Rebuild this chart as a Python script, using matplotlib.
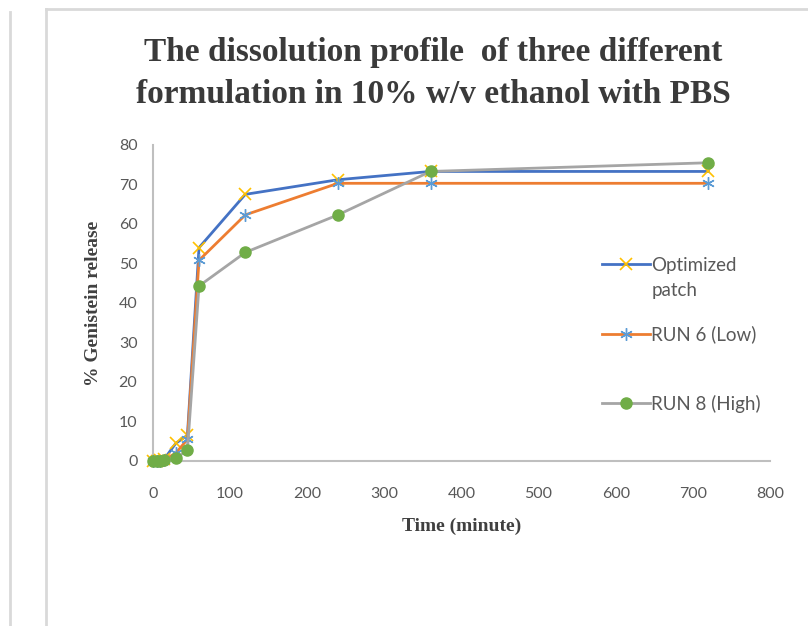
import matplotlib
matplotlib.use('Agg')
import matplotlib.pyplot as plt
from matplotlib.lines import Line2D

# dissolution data
time_min = [0, 5, 10, 15, 30, 45, 60, 120, 240, 360, 720]
optimized = [0, 0, 0.2, 0.5, 4.5, 6.5, 54.0, 67.5, 71.2, 73.3, 73.3]
run6_low = [0, 0, 0.1, 0.3, 2.0, 5.5, 50.8, 62.3, 70.3, 70.3, 70.3]
run8_high = [0, 0, 0.1, 0.2, 0.8, 2.7, 44.3, 52.8, 62.3, 73.3, 75.5]

series_labels = ['Optimized', 'RUN 6 (Low)', 'RUN 8 (High)']
x_ticks = [0, 100, 200, 300, 400, 500, 600, 700, 800]
y_ticks = [0, 10, 20, 30, 40, 50, 60, 70, 80]

serif = 'Liberation Serif'
sans = 'Lato'
tick_grey = '#595959'
axis_grey = '#bfbfbf'

fig = plt.figure(figsize=(8.08, 6.26), dpi=100)
ax = fig.add_axes([0.189, 0.2636, 0.764, 0.5048])

ax.plot(time_min, optimized, color='#4472C4', lw=2.0, marker='x',
        ms=9, mew=1.2, mec='#FFC000', label=series_labels[0], zorder=3,
        clip_on=False)
ax.plot(time_min, run6_low, color='#ED7D31', lw=2.0, marker=(6, 2, 0),
        ms=9, mew=1.0, mec='#5B9BD5', label=series_labels[1], zorder=3,
        clip_on=False)
ax.plot(time_min, run8_high, color='#A5A5A5', lw=2.0, marker='o',
        ms=8, mfc='#70AD47', mec='#70AD47', label=series_labels[2], zorder=4,
        clip_on=False)

ax.set_xlim(0, 800)
ax.set_ylim(0, 80)
ax.set_xticks(x_ticks)
ax.set_yticks(y_ticks)
ax.tick_params(length=0, labelsize=11.5, colors=tick_grey)
ax.tick_params(axis='x', pad=19)
ax.tick_params(axis='y', pad=11)
for lab in ax.get_xticklabels() + ax.get_yticklabels():
    lab.set_fontfamily(sans)

for side in ['top', 'right']:
    ax.spines[side].set_visible(False)
for side in ['left', 'bottom']:
    ax.spines[side].set_color(axis_grey)
    ax.spines[side].set_linewidth(1.5)

ax.set_xlabel('Time (minute)', fontfamily=serif, fontweight='bold',
              fontsize=14, color='#404040', labelpad=12)
ax.set_ylabel('% Genistein release', fontfamily=serif, fontweight='bold',
              fontsize=14, color='#404040', labelpad=12)

fig.text(0.536, 0.883, 'The dissolution profile  of three different\n'
         'formulation in 10% w/v ethanol with PBS',
         ha='center', va='center', fontfamily=serif, fontweight='bold',
         fontsize=24, color='#3a3a3a', linespacing=1.45)

leg = ax.legend(loc='upper left', bbox_to_anchor=(0.715, 0.67), frameon=False,
                prop={'family': sans, 'size': 13.5}, labelspacing=2.75,
                handlelength=2.6, handletextpad=0.05, borderaxespad=0)
for t in leg.get_texts():
    t.set_color(tick_grey)
ax.annotate('patch', xy=(0, 0), xycoords=leg.get_texts()[0],
            xytext=(0, -6), textcoords='offset points', ha='left', va='top',
            fontfamily=sans, fontsize=13.5, color=tick_grey, zorder=6)

# page border lines from the source screenshot
border = '#d9d9d9'
fig.add_artist(Line2D([10 / 808, 10 / 808], [0, 1 - 12 / 626], color=border, lw=2))
fig.add_artist(Line2D([46 / 808, 46 / 808], [0, 1 - 9 / 626], color=border, lw=2))
fig.add_artist(Line2D([46 / 808, 1], [1 - 9 / 626, 1 - 9 / 626], color=border, lw=2))

fig.savefig('out.png', dpi=100)
